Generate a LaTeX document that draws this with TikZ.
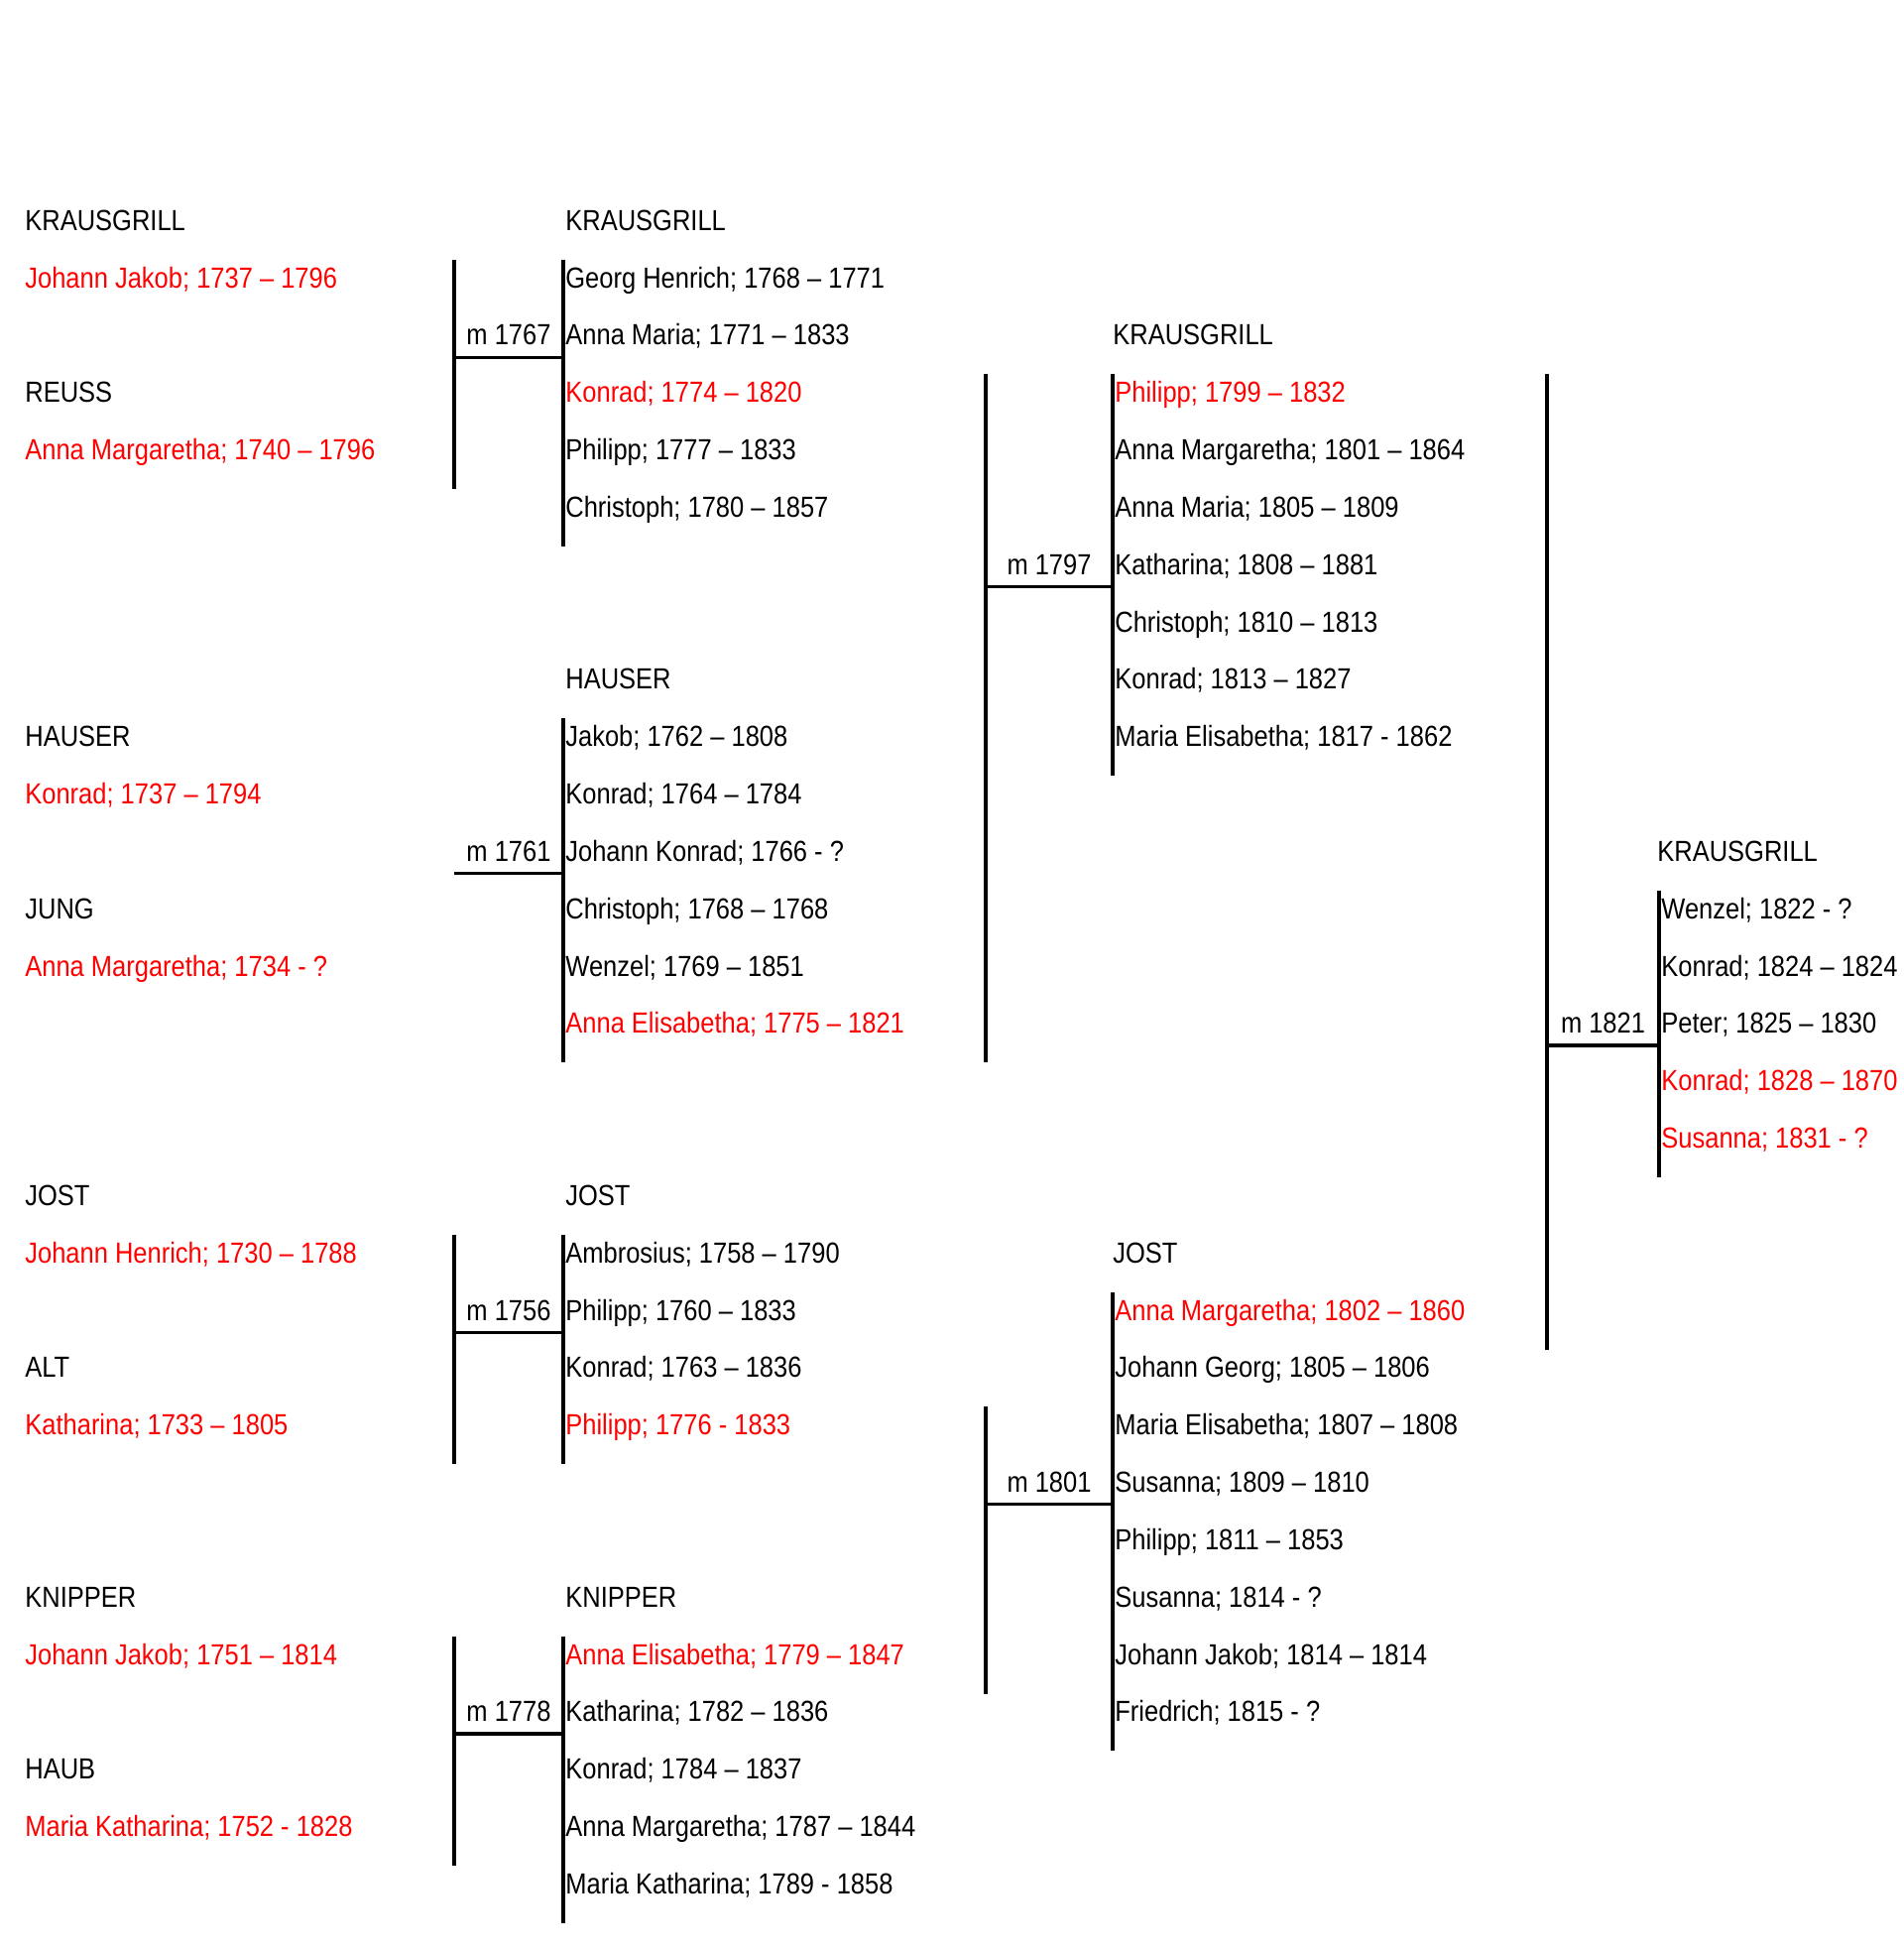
\documentclass[tikz,border=0pt]{standalone}
\usepackage{fontspec}
\setmainfont{Liberation Sans}[FakeStretch=0.87]
\tikzset{
  txt/.style={anchor=base west,inner sep=0pt,font=\fontsize{14.65}{17}\selectfont},
  anc/.style={txt,text=red},
  mlab/.style={anchor=base,inner sep=0pt,font=\fontsize{14.65}{17}\selectfont},
  bar/.style={line width=1.6pt}
}
\begin{document}
\begin{tikzpicture}[x=0.5pt,y=-28.915pt]
	\useasboundingbox (0,-4.017) rectangle (1920,29.962);
	% bars: p = parents, k = children, l/r = marriage line
	\coordinate (p1767t) at (458,0.51);
	\coordinate (p1767b) at (458,4.51);
	\coordinate (k1767t) at (568,0.51);
	\coordinate (k1767b) at (568,5.51);
	\coordinate (m1767l) at (458,2.21);
	\coordinate (m1767r) at (568,2.21);
	\coordinate (k1761t) at (568,8.51);
	\coordinate (k1761b) at (568,14.51);
	\coordinate (m1761l) at (458,11.21);
	\coordinate (m1761r) at (568,11.21);
	\coordinate (p1756t) at (458,17.51);
	\coordinate (p1756b) at (458,21.51);
	\coordinate (k1756t) at (568,17.51);
	\coordinate (k1756b) at (568,21.51);
	\coordinate (m1756l) at (458,19.21);
	\coordinate (m1756r) at (568,19.21);
	\coordinate (p1778t) at (458,24.51);
	\coordinate (p1778b) at (458,28.51);
	\coordinate (k1778t) at (568,24.51);
	\coordinate (k1778b) at (568,29.51);
	\coordinate (m1778l) at (458,26.21);
	\coordinate (m1778r) at (568,26.21);
	\coordinate (p1797t) at (994,2.51);
	\coordinate (p1797b) at (994,14.51);
	\coordinate (k1797t) at (1122,2.51);
	\coordinate (k1797b) at (1122,9.51);
	\coordinate (m1797l) at (994,6.21);
	\coordinate (m1797r) at (1122,6.21);
	\coordinate (p1801t) at (994,20.51);
	\coordinate (p1801b) at (994,25.51);
	\coordinate (k1801t) at (1122,18.51);
	\coordinate (k1801b) at (1122,26.51);
	\coordinate (m1801l) at (994,22.21);
	\coordinate (m1801r) at (1122,22.21);
	\coordinate (p1821t) at (1560,2.51);
	\coordinate (p1821b) at (1560,19.51);
	\coordinate (k1821t) at (1673,11.51);
	\coordinate (k1821b) at (1673,16.51);
	\coordinate (m1821l) at (1560,14.21);
	\coordinate (m1821r) at (1673,14.21);

	\draw[bar] (p1767t) -- (p1767b); \draw[bar] (k1767t) -- (k1767b); \draw[bar] (m1767l) -- (m1767r);
	\draw[bar] (k1761t) -- (k1761b); \draw[bar] (m1761l) -- (m1761r);
	\draw[bar] (p1756t) -- (p1756b); \draw[bar] (k1756t) -- (k1756b); \draw[bar] (m1756l) -- (m1756r);
	\draw[bar] (p1778t) -- (p1778b); \draw[bar] (k1778t) -- (k1778b); \draw[bar] (m1778l) -- (m1778r);
	\draw[bar] (p1797t) -- (p1797b); \draw[bar] (k1797t) -- (k1797b); \draw[bar] (m1797l) -- (m1797r);
	\draw[bar] (p1801t) -- (p1801b); \draw[bar] (k1801t) -- (k1801b); \draw[bar] (m1801l) -- (m1801r);
	\draw[bar] (p1821t) -- (p1821b); \draw[bar] (k1821t) -- (k1821b); \draw[bar] (m1821l) -- (m1821r);

	\node[mlab] (l1767) at (513,2) {m 1767};
	\node[mlab] (l1761) at (513,11) {m 1761};
	\node[mlab] (l1756) at (513,19) {m 1756};
	\node[mlab] (l1778) at (513,26) {m 1778};
	\node[mlab] (l1797) at (1058,6) {m 1797};
	\node[mlab] (l1801) at (1058,22) {m 1801};
	\node[mlab] (l1821) at (1616.5,14) {m 1821};

	% generation 1
	\node[txt] (a1) at (25,0) {KRAUSGRILL};
	\node[anc] (a2) at (25,1) {Johann Jakob; 1737 – 1796};
	\node[txt] (a3) at (25,3) {REUSS};
	\node[anc] (a4) at (25,4) {Anna Margaretha; 1740 – 1796};
	\node[txt] (a5) at (25,9) {HAUSER};
	\node[anc] (a6) at (25,10) {Konrad; 1737 – 1794};
	\node[txt] (a7) at (25,12) {JUNG};
	\node[anc] (a8) at (25,13) {Anna Margaretha; 1734 - ?};
	\node[txt] (a9) at (25,17) {JOST};
	\node[anc] (a10) at (25,18) {Johann Henrich; 1730 – 1788};
	\node[txt] (a11) at (25,20) {ALT};
	\node[anc] (a12) at (25,21) {Katharina; 1733 – 1805};
	\node[txt] (a13) at (25,24) {KNIPPER};
	\node[anc] (a14) at (25,25) {Johann Jakob; 1751 – 1814};
	\node[txt] (a15) at (25,27) {HAUB};
	\node[anc] (a16) at (25,28) {Maria Katharina; 1752 - 1828};

	% generation 2
	\node[txt] (b1) at (570,0) {KRAUSGRILL};
	\node[txt] (b2) at (570,1) {Georg Henrich; 1768 – 1771};
	\node[txt] (b3) at (570,2) {Anna Maria; 1771 – 1833};
	\node[anc] (b4) at (570,3) {Konrad; 1774 – 1820};
	\node[txt] (b5) at (570,4) {Philipp; 1777 – 1833};
	\node[txt] (b6) at (570,5) {Christoph; 1780 – 1857};
	\node[txt] (b7) at (570,8) {HAUSER};
	\node[txt] (b8) at (570,9) {Jakob; 1762 – 1808};
	\node[txt] (b9) at (570,10) {Konrad; 1764 – 1784};
	\node[txt] (b10) at (570,11) {Johann Konrad; 1766 - ?};
	\node[txt] (b11) at (570,12) {Christoph; 1768 – 1768};
	\node[txt] (b12) at (570,13) {Wenzel; 1769 – 1851};
	\node[anc] (b13) at (570,14) {Anna Elisabetha; 1775 – 1821};
	\node[txt] (b14) at (570,17) {JOST};
	\node[txt] (b15) at (570,18) {Ambrosius; 1758 – 1790};
	\node[txt] (b16) at (570,19) {Philipp; 1760 – 1833};
	\node[txt] (b17) at (570,20) {Konrad; 1763 – 1836};
	\node[anc] (b18) at (570,21) {Philipp; 1776 - 1833};
	\node[txt] (b19) at (570,24) {KNIPPER};
	\node[anc] (b20) at (570,25) {Anna Elisabetha; 1779 – 1847};
	\node[txt] (b21) at (570,26) {Katharina; 1782 – 1836};
	\node[txt] (b22) at (570,27) {Konrad; 1784 – 1837};
	\node[txt] (b23) at (570,28) {Anna Margaretha; 1787 – 1844};
	\node[txt] (b24) at (570,29) {Maria Katharina; 1789 - 1858};

	% generation 3
	\node[txt] (c1) at (1122,2) {KRAUSGRILL};
	\node[anc] (c2) at (1124,3) {Philipp; 1799 – 1832};
	\node[txt] (c3) at (1124,4) {Anna Margaretha; 1801 – 1864};
	\node[txt] (c4) at (1124,5) {Anna Maria; 1805 – 1809};
	\node[txt] (c5) at (1124,6) {Katharina; 1808 – 1881};
	\node[txt] (c6) at (1124,7) {Christoph; 1810 – 1813};
	\node[txt] (c7) at (1124,8) {Konrad; 1813 – 1827};
	\node[txt] (c8) at (1124,9) {Maria Elisabetha; 1817 - 1862};
	\node[txt] (c9) at (1122,18) {JOST};
	\node[anc] (c10) at (1124,19) {Anna Margaretha; 1802 – 1860};
	\node[txt] (c11) at (1124,20) {Johann Georg; 1805 – 1806};
	\node[txt] (c12) at (1124,21) {Maria Elisabetha; 1807 – 1808};
	\node[txt] (c13) at (1124,22) {Susanna; 1809 – 1810};
	\node[txt] (c14) at (1124,23) {Philipp; 1811 – 1853};
	\node[txt] (c15) at (1124,24) {Susanna; 1814 - ?};
	\node[txt] (c16) at (1124,25) {Johann Jakob; 1814 – 1814};
	\node[txt] (c17) at (1124,26) {Friedrich; 1815 - ?};

	% generation 4
	\node[txt] (d1) at (1671,11) {KRAUSGRILL};
	\node[txt] (d2) at (1675,12) {Wenzel; 1822 - ?};
	\node[txt] (d3) at (1675,13) {Konrad; 1824 – 1824};
	\node[txt] (d4) at (1675,14) {Peter; 1825 – 1830};
	\node[anc] (d5) at (1675,15) {Konrad; 1828 – 1870};
	\node[anc] (d6) at (1675,16) {Susanna; 1831 - ?};
\end{tikzpicture}
\end{document}
